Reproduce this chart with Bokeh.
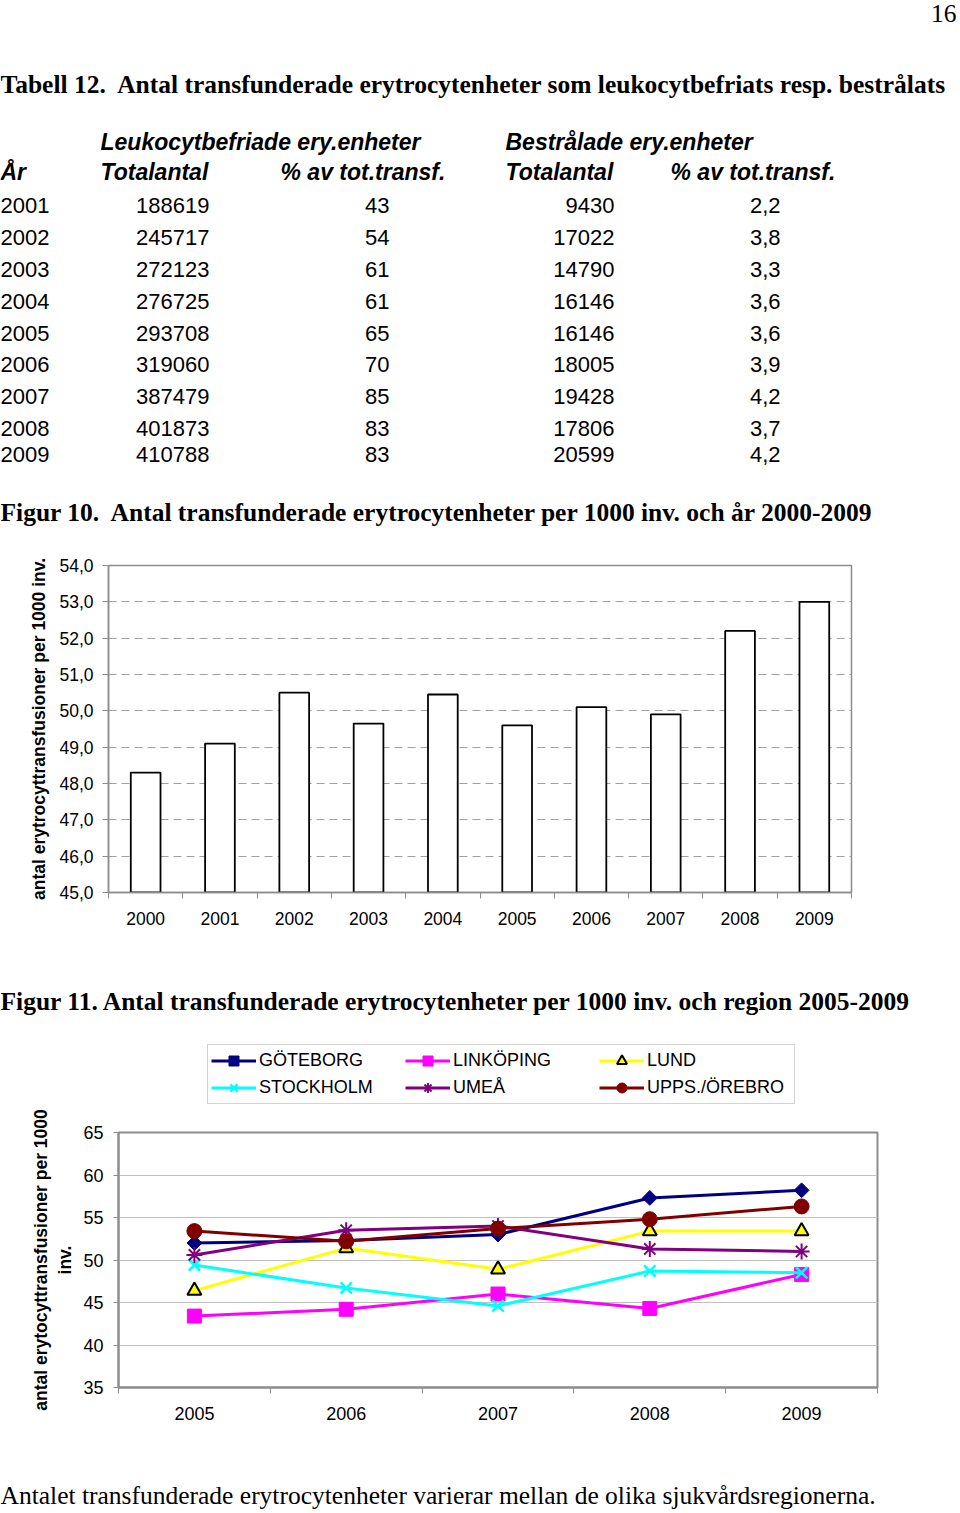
import math
from bokeh.plotting import figure
from bokeh.layouts import column
from bokeh.models import Range1d, FixedTicker, CustomJSTickFormatter, Legend, LegendItem
from bokeh.core.properties import value
from bokeh.embed import file_html
from bokeh.resources import INLINE

SERIF = "Liberation Serif"
SANS = "Liberation Sans"

# ---------------- data ----------------
page_number = "16"
table_title = "Tabell 12.\u00a0 Antal transfunderade erytrocytenheter som leukocytbefriats resp. bestrålats"
table_years = [2001, 2002, 2003, 2004, 2005, 2006, 2007, 2008, 2009]
leuko_total = [188619, 245717, 272123, 276725, 293708, 319060, 387479, 401873, 410788]
leuko_pct = [43, 54, 61, 61, 65, 70, 85, 83, 83]
irr_total = [9430, 17022, 14790, 16146, 16146, 18005, 19428, 17806, 20599]
irr_pct = [2.2, 3.8, 3.3, 3.6, 3.6, 3.9, 4.2, 3.7, 4.2]

fig10_title = "Figur 10.\u00a0 Antal transfunderade erytrocytenheter per 1000 inv. och år 2000-2009"
bar_years = [2000, 2001, 2002, 2003, 2004, 2005, 2006, 2007, 2008, 2009]
bar_values = [48.3, 49.1, 50.5, 49.65, 50.45, 49.6, 50.1, 49.9, 52.2, 53.0]
bar_ticks = [45, 46, 47, 48, 49, 50, 51, 52, 53, 54]

fig11_title = "Figur 11. Antal transfunderade erytrocytenheter per 1000 inv. och region 2005-2009"
region_years = [2005, 2006, 2007, 2008, 2009]
regions = ["GÖTEBORG", "LINKÖPING", "LUND", "STOCKHOLM", "UMEÅ", "UPPS./ÖREBRO"]
goteborg = [52.0, 52.3, 53.0, 57.3, 58.2]
linkoping = [43.4, 44.2, 46.0, 44.3, 48.3]
lund = [46.4, 51.4, 48.9, 53.4, 53.4]
stockholm = [49.4, 46.7, 44.6, 48.7, 48.5]
umea = [50.6, 53.5, 54.0, 51.3, 51.0]
upps_orebro = [53.4, 52.2, 53.7, 54.8, 56.3]
line_ticks = [35, 40, 45, 50, 55, 60, 65]

footer = "Antalet transfunderade erytrocytenheter varierar mellan de olika sjukvårdsregionerna."

# ---------------- layout helpers ----------------
W = 960


def no_align(p):
    try:
        p.frame_align = False
    except Exception:
        pass


def blank_fig(h, **kw):
    opts = dict(min_border=0)
    opts.update(kw)
    p = figure(width=W, height=h, x_range=Range1d(0, W), y_range=Range1d(h, 0),
               output_backend="svg", toolbar_location=None,
               x_axis_location=None, y_axis_location=None, **opts)
    p.grid.visible = False
    p.outline_line_color = None
    p.background_fill_color = "white"
    p.border_fill_color = "white"
    no_align(p)
    return p


def txt(p, x, y, s, font=SANS, size="22px", style="normal", align="left", baseline="middle"):
    p.text(x=[x], y=[y], text=[s], text_font=value(font), text_font_size=size,
           text_font_style=style, text_align=align, text_baseline=baseline, text_color="black")


def comma(v, d=1):
    return f"{v:.{d}f}".replace(".", ",")


# ---------------- top text block (table) ----------------
HEAD = "25.5px"
pA = blank_fig(540)
txt(pA, 956, 13, page_number, font=SERIF, size=HEAD, align="right")
txt(pA, 0, 84, table_title, font=SERIF, size=HEAD, style="bold")
txt(pA, 100, 141, "Leukocytbefriade ery.enheter", size="23px", style="bold italic")
txt(pA, 505, 141, "Bestrålade ery.enheter", size="23px", style="bold italic")
for hx, hs in [(0, "År"), (100, "Totalantal"), (280, "% av tot.transf."),
               (505, "Totalantal"), (670, "% av tot.transf.")]:
    txt(pA, hx, 171, hs, size="23px", style="bold italic")
row_y = [205, 237, 269, 301, 333, 364, 396, 428, 454]
cols = [(0, "left", [str(v) for v in table_years]),
        (209, "right", [str(v) for v in leuko_total]),
        (389, "right", [str(v) for v in leuko_pct]),
        (614, "right", [str(v) for v in irr_total]),
        (780, "right", [comma(v) for v in irr_pct])]
for cx, al, strings in cols:
    pA.text(x=[cx] * len(strings), y=row_y, text=strings,
            text_font=value(SANS), text_font_size="22px", text_align=al,
            text_baseline="middle", text_color="black")
txt(pA, 0, 512, fig10_title, font=SERIF, size=HEAD, style="bold")

# ---------------- Figure 10: bar chart ----------------
GRAY = "#8c8c8c"
pB = figure(width=W, height=405, x_range=Range1d(1999.5, 2009.5), y_range=Range1d(45, 54),
            output_backend="svg", toolbar_location=None,
            min_border_left=108, min_border_right=109, min_border_top=25, min_border_bottom=53)
no_align(pB)
pB.vbar(x=bar_years, top=bar_values, bottom=45, width=0.4,
        fill_color="white", line_color="black", line_width=1.8)
pB.outline_line_color = GRAY
pB.outline_line_width = 1.5
pB.xgrid.visible = False
pB.ygrid.grid_line_color = "#a0a0a0"
pB.ygrid.grid_line_dash = "8 5"
pB.ygrid.grid_line_width = 1
pB.ygrid.ticker = FixedTicker(ticks=bar_ticks)
yb = pB.yaxis[0]
yb.ticker = FixedTicker(ticks=bar_ticks)
yb.formatter = CustomJSTickFormatter(code="return tick.toFixed(1).replace('.', ',');")
yb.axis_line_color = GRAY
yb.axis_line_width = 1.5
yb.major_tick_line_color = GRAY
yb.major_tick_in = 0
yb.major_tick_out = 6
yb.minor_tick_line_color = None
yb.major_label_text_font = SANS
yb.major_label_text_font_size = "17.5px"
yb.major_label_text_color = "black"
yb.major_label_standoff = 9
yb.axis_label = "antal erytrocyttransfusioner per 1000 inv."
yb.axis_label_text_font = SANS
yb.axis_label_text_font_size = "17.5px"
yb.axis_label_text_font_style = "bold"
yb.axis_label_text_color = "black"
yb.axis_label_standoff = 7
xb = pB.xaxis[0]
xb.ticker = FixedTicker(ticks=bar_years, minor_ticks=[y - 0.5 for y in bar_years] + [bar_years[-1] + 0.5])
xb.formatter = CustomJSTickFormatter(code="return tick.toFixed(0);")
xb.axis_line_color = GRAY
xb.axis_line_width = 1.5
xb.major_tick_line_color = None
xb.major_tick_in = 0
xb.major_tick_out = 0
xb.minor_tick_line_color = GRAY
xb.minor_tick_in = 0
xb.minor_tick_out = 6
xb.major_label_text_font = SANS
xb.major_label_text_font_size = "17.5px"
xb.major_label_text_color = "black"
xb.major_label_standoff = 13

# ---------------- Figure 11 heading ----------------
pC = blank_fig(95)
txt(pC, 0, 56, fig11_title, font=SERIF, size=HEAD, style="bold")

# ---------------- Figure 11 styles ----------------
series = [
    (goteborg, "#000080", dict(marker="square", size=10.5, angle=math.pi / 4, fill_color="#000080", line_color="#000080")),
    (linkoping, "#ff00ff", dict(marker="square", size=14, fill_color="#ff00ff", line_color="#ff00ff")),
    (lund, "#ffff00", dict(marker="triangle", size=14, fill_color="#ffff00", line_color="black", line_width=2)),
    (stockholm, "#00ffff", dict(marker="x", size=16, line_color="#00ffff", line_width=2.5)),
    (umea, "#800080", dict(marker="asterisk", size=16, line_color="#800080", line_width=2)),
    (upps_orebro, "#800000", dict(marker="circle", size=15, fill_color="#800000", line_color="#800000")),
]

# ---------------- Figure 11 legend strip ----------------
# The legend sits above the chart frame; its key renderers carry the same series
# (they fall outside this strip's visible range, so only the legend keys show).
pL = blank_fig(68, min_border_left=207, min_border_top=4)
items = []
for name, (vals, col, mk) in zip(regions, series):
    lr = pL.line(x=region_years, y=vals, line_color=col, line_width=3)
    sr = pL.scatter(x=region_years, y=vals, **mk)
    items.append(LegendItem(label=name, renderers=[lr, sr]))
legend = Legend(items=items, location="top_left", orientation="horizontal", ncols=3,
                glyph_width=45, glyph_height=25, label_height=25, label_width=144,
                label_standoff=3, spacing=2, padding=3, margin=0,
                label_text_font=SANS, label_text_font_size="18px", label_text_color="black",
                border_line_color="#a8a8a8", border_line_width=1,
                background_fill_color="white", background_fill_alpha=1)
pL.add_layout(legend)

# ---------------- Figure 11: line chart ----------------
pD = figure(width=W, height=352, x_range=Range1d(2004.5, 2009.5), y_range=Range1d(35, 65),
            output_backend="svg", toolbar_location=None,
            min_border_left=118, min_border_right=83, min_border_top=24, min_border_bottom=73)
no_align(pD)
pD.outline_line_color = GRAY
pD.outline_line_width = 2
pD.xgrid.visible = False
pD.ygrid.grid_line_color = "#c0c0c0"
pD.ygrid.grid_line_width = 1.2
pD.ygrid.ticker = FixedTicker(ticks=line_ticks)
for name, (vals, col, mk) in zip(regions, series):
    pD.line(x=region_years, y=vals, line_color=col, line_width=3)
    pD.scatter(x=region_years, y=vals, **mk)

yd = pD.yaxis[0]
yd.ticker = FixedTicker(ticks=line_ticks)
yd.axis_line_color = GRAY
yd.axis_line_width = 2
yd.major_tick_line_color = GRAY
yd.major_tick_in = 0
yd.major_tick_out = 5
yd.minor_tick_line_color = None
yd.major_label_text_font = SANS
yd.major_label_text_font_size = "18px"
yd.major_label_text_color = "black"
yd.major_label_standoff = 10
yd.axis_label = "antal erytocyttransfusioner per 1000\ninv."
yd.axis_label_text_font = SANS
yd.axis_label_text_font_size = "17.5px"
yd.axis_label_text_font_style = "bold"
yd.axis_label_text_color = "black"
yd.axis_label_standoff = 5
xd = pD.xaxis[0]
xd.ticker = FixedTicker(ticks=region_years, minor_ticks=[y - 0.5 for y in region_years] + [region_years[-1] + 0.5])
xd.formatter = CustomJSTickFormatter(code="return tick.toFixed(0);")
xd.axis_line_color = GRAY
xd.axis_line_width = 2
xd.major_tick_line_color = None
xd.major_tick_in = 0
xd.major_tick_out = 0
xd.minor_tick_line_color = GRAY
xd.minor_tick_in = 0
xd.minor_tick_out = 6
xd.major_label_text_font = SANS
xd.major_label_text_font_size = "18px"
xd.major_label_text_color = "black"
xd.major_label_standoff = 13

# ---------------- footer ----------------
pE = blank_fig(52)
txt(pE, 0, 35, footer, font=SERIF, size=HEAD)

layout = column(pA, pB, pC, pL, pD, pE, spacing=0)
open("out.html", "w").write(file_html(layout, INLINE, title="Figur 10-11"))
